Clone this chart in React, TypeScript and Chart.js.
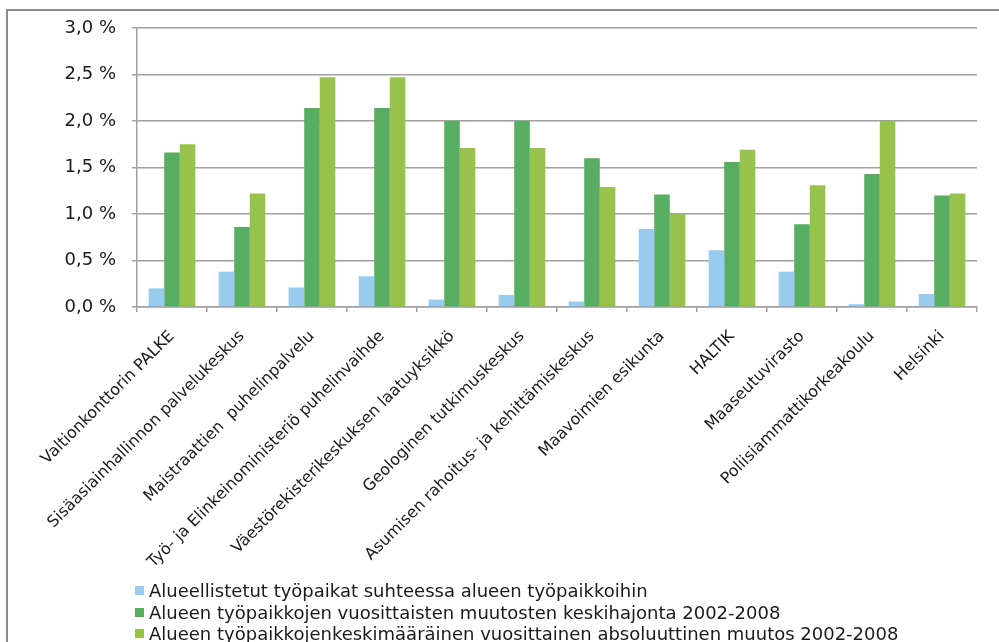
import React, { useEffect, useRef } from "react";
import { Chart, registerables } from "chart.js";
Chart.register(...registerables);

const categories = [
  "Valtionkonttorin PALKE",
  "Sisäasiainhallinnon palvelukeskus",
  "Maistraattien  puhelinpalvelu",
  "Työ- ja Elinkeinoministeriö puhelinvaihde",
  "Väestörekisterikeskuksen laatuyksikkö",
  "Geologinen tutkimuskeskus",
  "Asumisen rahoitus- ja kehittämiskeskus",
  "Maavoimien esikunta",
  "HALTIK",
  "Maaseutuvirasto",
  "Poliisiammattikorkeakoulu",
  "Helsinki",
];

const seriesNames = [
  "Alueellistetut työpaikat suhteessa alueen työpaikkoihin",
  "Alueen työpaikkojen vuosittaisten muutosten keskihajonta 2002-2008",
  "Alueen työpaikkojenkeskimääräinen vuosittainen absoluuttinen muutos 2002-2008",
];

const alueellistetut = [0.2, 0.38, 0.21, 0.33, 0.08, 0.13, 0.06, 0.84, 0.61, 0.38, 0.03, 0.14];
const keskihajonta = [1.66, 0.86, 2.14, 2.14, 2.0, 2.0, 1.6, 1.21, 1.56, 0.89, 1.43, 1.2];
const absMuutos = [1.75, 1.22, 2.47, 2.47, 1.71, 1.71, 1.29, 1.0, 1.69, 1.31, 2.0, 1.22];

const colors = ["#99cbee", "#57ad60", "#97c34c"];

const yMin = 0;
const yMax = 3;
const yStep = 0.5;

const framePlugin = {
  id: "frame",
  beforeDraw(chart: any) {
    const ctx = chart.ctx;
    ctx.save();
    ctx.fillStyle = "#ffffff";
    ctx.fillRect(0, 0, chart.width, chart.height);
    ctx.strokeStyle = "#8c8c8c";
    ctx.lineWidth = 2;
    ctx.strokeRect(7, 10, chart.width + 20, chart.height + 20);
    ctx.restore();
  },
};

export default function App() {
  const ref = useRef<HTMLCanvasElement | null>(null);

  useEffect(() => {
    const canvas = ref.current;
    if (!canvas) return;
    const values = [alueellistetut, keskihajonta, absMuutos];
    const chart = new Chart(canvas, {
      type: "bar",
      data: {
        labels: categories,
        datasets: values.map((v, i) => ({
          label: seriesNames[i],
          data: v,
          backgroundColor: colors[i],
          borderWidth: 0,
          categoryPercentage: 0.667,
          barPercentage: 1.0,
        })),
      },
      plugins: [framePlugin],
      options: {
        responsive: false,
        devicePixelRatio: 1,
        animation: false,
        layout: { padding: { left: 0, right: 22, top: 28, bottom: 74 } },
        plugins: {
          legend: { display: false },
          tooltip: { enabled: false },
          title: { display: false },
        },
        scales: {
          x: {
            offset: true,
            grid: {
              display: true,
              offset: true,
              drawOnChartArea: false,
              drawTicks: true,
              tickLength: 5,
              color: "#a0a0a0",
              lineWidth: 1.5,
            },
            border: { display: true, color: "#a0a0a0", width: 1.5 },
            ticks: {
              autoSkip: false,
              maxRotation: 45,
              minRotation: 45,
              padding: 15,
              color: "#1a1a1a",
              font: { family: "DejaVu Sans", size: 16 },
            },
            afterFit: (s: any) => {
              s.height = 261;
            },
          },
          y: {
            min: yMin,
            max: yMax,
            grid: {
              color: "#a0a0a0",
              lineWidth: 1.5,
              drawTicks: true,
              tickLength: 5,
            },
            border: { display: true, color: "#a0a0a0", width: 1.5 },
            ticks: {
              stepSize: yStep,
              padding: 16,
              color: "#1a1a1a",
              font: { family: "DejaVu Sans", size: 18 },
              callback: (v: any) => Number(v).toFixed(1).replace(".", ",") + " %",
            },
            afterFit: (s: any) => {
              s.width = 137;
            },
          },
        },
      },
    });
    return () => chart.destroy();
  }, []);

  return (
    <div style={{ position: "fixed", left: 0, top: 0, width: 999, height: 642, overflow: "hidden" }}>
      <canvas
        ref={ref}
        width={999}
        height={642}
        style={{ position: "absolute", left: 0, top: 0, width: 999, height: 642 }}
      />
      <div style={{ position: "absolute", left: 135, top: 580 }}>
        {seriesNames.map((n, i) => (
          <div
            key={i}
            style={{
              position: "relative",
              height: 21.7,
              lineHeight: "21.7px",
              fontFamily: "DejaVu Sans",
              fontSize: 18,
              color: "#1a1a1a",
              whiteSpace: "nowrap",
              paddingLeft: 14,
            }}
          >
            <span
              style={{
                position: "absolute",
                left: 0,
                top: 6,
                width: 9,
                height: 9,
                background: colors[i],
              }}
            />
            {n}
          </div>
        ))}
      </div>
    </div>
  );
}
